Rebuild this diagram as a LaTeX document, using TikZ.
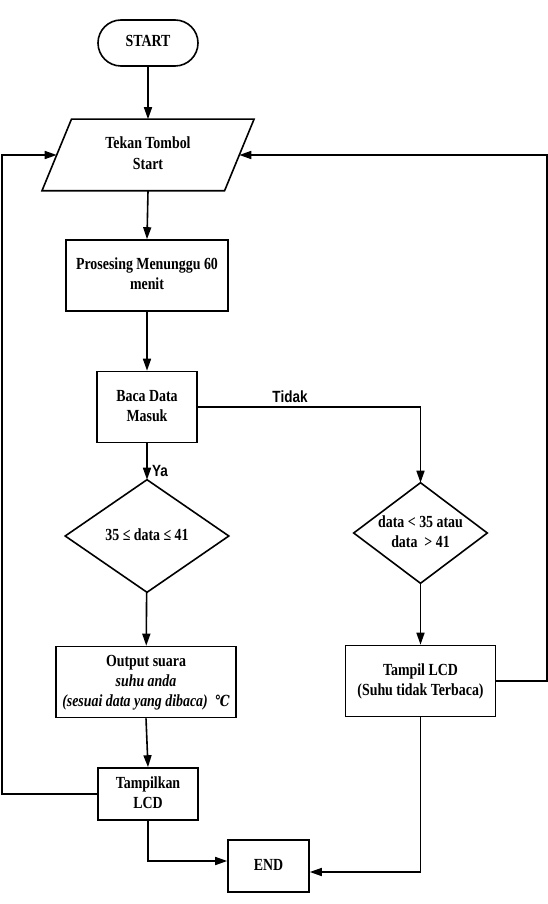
\documentclass[tikz,border=0pt]{standalone}
\usepackage{fontspec}
\usepackage{graphicx}
\setmainfont{Liberation Serif}
\newfontfamily\arialfont{Liberation Sans}
\newfontfamily\degfont{DejaVu Serif}
\usetikzlibrary{shapes.geometric,shapes.misc,arrows.meta}
\newcommand{\vtxt}[1]{\scalebox{1}[1.22]{\begin{tabular}{@{}c@{}}#1\end{tabular}}}
\begin{document}
\begin{tikzpicture}[x=1pt,y=-1pt,
  line width=1.6pt,
  txt/.style={font=\bfseries\fontsize{13.9}{16.4}\selectfont, align=center},
  box/.style={txt, draw, rectangle, inner sep=0pt},
  term/.style={txt, draw, rounded rectangle, inner sep=0pt},
  dec/.style={txt, rectangle, inner sep=0pt},
  lbl/.style={font=\arialfont\bfseries\fontsize{13.5}{16}\selectfont, inner sep=0pt},
  arr/.style={-{Triangle[length=12pt,width=8pt]}}
]
\useasboundingbox (0,0) rectangle (548,904);
\fill[white] (0,0) rectangle (548,904);

\node[term, minimum width=100, minimum height=46] (start) at (148,43) {\vtxt{START}};
\node[txt, minimum width=181, minimum height=70, inner sep=0pt] (tekan) at (148,155) {\vtxt{Tekan Tombol\\Start}};
\draw ([xshift=14.75pt]tekan.north west) -- ([xshift=14.75pt]tekan.north east)
   -- ([xshift=-14.75pt]tekan.south east) -- ([xshift=-14.75pt]tekan.south west) -- cycle;
\node[box, minimum width=162, minimum height=71] (pros) at (147,275.5) {\vtxt{Prosesing Menunggu 60\\menit}};
\node[box, minimum width=100, minimum height=71] (baca) at (147,407) {\vtxt{Baca Data\\Masuk}};
\node[dec, minimum width=162, minimum height=111] (d1) at (147,536) {\vtxt{35 ≤ data ≤ 41}};
\draw (d1.north) -- (d1.east) -- (d1.south) -- (d1.west) -- cycle;
\node[dec, minimum width=132, minimum height=99] (d2) at (420.5,533) {\vtxt{data < 35 atau\\data~~> 41}};
\draw (d2.north) -- (d2.east) -- (d2.south) -- (d2.west) -- cycle;
\node[box, minimum width=180, minimum height=71] (out) at (146,682) {\vtxt{Output suara\\\textit{suhu anda}\\\textit{(sesuai data yang dibaca)~~{\degfont\bfseries\itshape\fontsize{12.5}{16}\selectfont ℃}}}};
\node[box, minimum width=150, minimum height=71] (tlcd) at (420.5,681) {\vtxt{Tampil LCD\\(Suhu tidak Terbaca)}};
\node[box, minimum width=100, minimum height=52] (tamp) at (148,794) {\vtxt{Tampilkan\\LCD}};
\node[box, minimum width=81, minimum height=52] (end) at (268.5,866) {\vtxt{END}};

\coordinate (lx) at (2,0);
\coordinate (rx) at (547,0);

\draw[arr] (start) -- (tekan);
\draw[arr] (tekan.south) -- (pros.north);
\draw[arr] (pros) -- (baca);
\draw[arr] (baca) -- (d1);
\draw[arr] (baca.east) -| (d2.north);
\draw[arr] (d1) -- (out);
\draw[arr] (d2) -- (tlcd);
\draw[arr] (out.south) -- (tamp.north);
\draw[arr] (tamp.west) -- (tamp.west -| lx) -- (tekan.west -| lx) -- (tekan.west);
\draw[arr] (tlcd.east) -- (tlcd.east -| rx) -- (tekan.east -| rx) -- (tekan.east);
\draw[arr] (tamp.south) |- ([yshift=5pt]end.west);
\draw[arr] (tlcd.south) |- ([yshift=-6pt]end.east);

\node[lbl] (tidak) at (290,397) {\scalebox{1}[1.2]{Tidak}};
\node[lbl] (ya) at (160,471) {\scalebox{1}[1.2]{Ya}};
\end{tikzpicture}
\end{document}
